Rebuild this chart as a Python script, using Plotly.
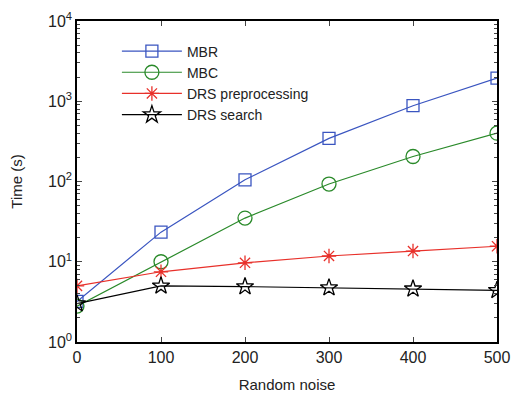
import plotly.graph_objects as go

noise = [0, 100, 200, 300, 400, 500]
mbr = [3.2, 23.4, 105, 345, 880, 1940]
mbc = [2.8, 10.0, 35, 93, 205, 400]
drs_pre = [5.0, 7.5, 9.7, 11.8, 13.6, 15.6]
drs_search = [3.0, 5.0, 4.9, 4.75, 4.6, 4.4]
y_ticks = [1, 10, 100, 1000, 10000]
y_ticktext = ["10<sup>0</sup>", "10<sup>1</sup>", "10<sup>2</sup>", "10<sup>3</sup>", "10<sup>4</sup>"]

series = [
    ("MBR", mbr, "#3a55c0", "square-open", 12),
    ("MBC", mbc, "#2a8a2a", "circle-open", 14),
    ("DRS preprocessing", drs_pre, "#e8302a", "asterisk-open", 12),
    ("DRS search", drs_search, "#000000", "star-open", 13),
]

fig = go.Figure()
for name, ys, color, sym, size in series:
    fig.add_trace(go.Scatter(
        x=noise, y=ys, name=name, mode="lines+markers",
        line=dict(color=color, width=1.2),
        marker=dict(symbol=sym, size=size, color=color,
                    line=dict(color=color, width=1.3)),
    ))

font = "Liberation Sans, Arial, sans-serif"
fig.update_layout(
    width=512, height=394,
    margin=dict(l=77, r=15, t=21, b=52),
    paper_bgcolor="white", plot_bgcolor="white",
    font=dict(family=font, size=15, color="#222"),
    showlegend=True,
    legend=dict(x=0.095, y=0.955, xanchor="left", yanchor="top",
                bgcolor="rgba(0,0,0,0)", font=dict(size=14, color="#222"),
                tracegroupgap=0, itemwidth=60),
)
fig.update_xaxes(
    range=[0, 500], tickvals=noise, ticks="inside", ticklen=5,
    showline=True, linecolor="black", linewidth=1.5, mirror="ticks",
    showgrid=False, zeroline=False, automargin=False,
    ticklabeloverflow="allow",
    title=dict(text="Random noise", font=dict(size=15, color="#222"), standoff=15),
    tickfont=dict(size=16, color="#222"),
)
fig.update_yaxes(
    type="log", range=[0, 4], tickvals=y_ticks, ticktext=y_ticktext,
    ticks="inside", ticklen=5,
    minor=dict(ticks="inside", ticklen=3, showgrid=False,
               tickvals=[m * 10 ** e for e in range(4) for m in range(2, 10)]),
    showline=True, linecolor="black", linewidth=1.5, mirror="ticks",
    showgrid=False, zeroline=False, automargin=False,
    title=dict(text="Time (s)", font=dict(size=15, color="#222"), standoff=22),
    tickfont=dict(size=16, color="#222"),
)

fig.write_html(
    "out.html",
    config={"displayModeBar": False},
    post_script="document.body.style.margin='0px';document.body.style.overflow='hidden';",
)
